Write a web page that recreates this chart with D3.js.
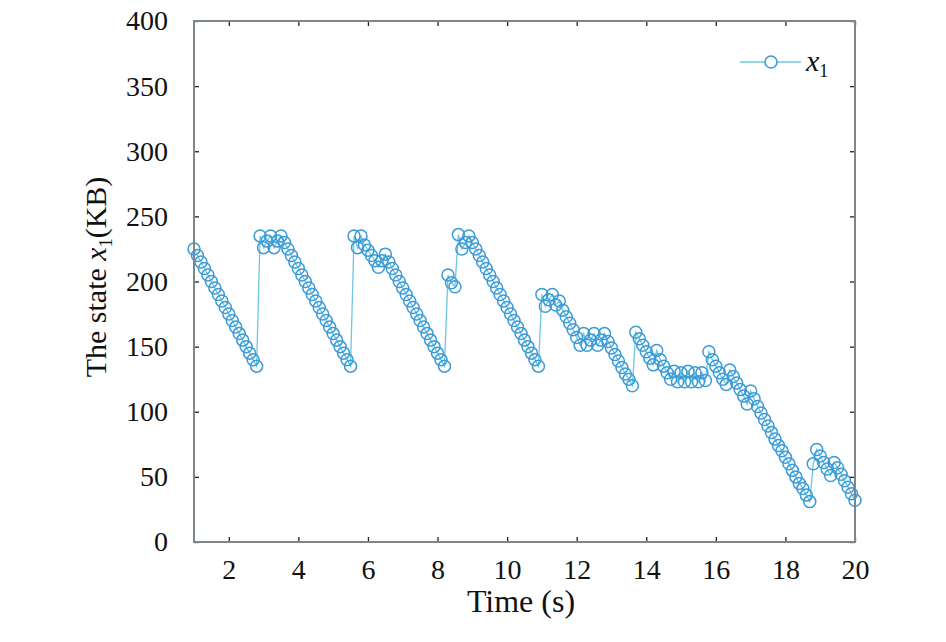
<!DOCTYPE html>
<html>
<head>
<meta charset="utf-8">
<script src="https://cdn.jsdelivr.net/npm/d3@7"></script>
<style>
  body { margin: 0; background: #fff; }
  svg text { font-family: "Liberation Serif", "Times New Roman", serif; fill: #111; }
</style>
</head>
<body>
<svg id="chart" width="946" height="642"></svg>
<script>
// sampling: every 0.1 s from t = 1 s
const tStart = 1;
const tStep = 0.1;

// x1 (KB), one array per cycle of the sawtooth
const cycle1 = [225, 220, 215, 210, 205, 200, 195, 190, 185, 180, 175, 170, 165, 160, 155, 150, 145, 140, 135];
const cycle2 = [235, 226, 231, 235, 226, 231, 235, 230, 225, 220, 215, 210, 205, 200, 195, 190, 185, 180, 175, 170,
  165, 160, 155, 150, 145, 140, 135];
const cycle3 = [235, 226, 235, 228, 224, 220, 216, 211, 216, 221, 215, 210, 205, 200, 195, 190, 185, 180, 175, 170,
  165, 160, 155, 150, 145, 140, 135];
const cycle4 = [205, 199, 196, 236, 225, 230, 235, 230, 225, 220, 215, 210, 205, 200, 195, 190, 185, 180, 175, 170,
  165, 160, 155, 150, 145, 140, 135];
const cycle5 = [190, 181, 186, 190, 182, 185, 178, 173, 168, 163, 157, 151, 160, 151, 155, 160, 151, 155, 160, 154,
  149, 144, 139, 134, 129, 125, 120];
const cycle6 = [161, 156, 151, 146, 141, 136, 147, 140, 135, 130, 125, 131, 123, 130, 123, 131, 123, 130, 123, 130, 124];
const cycle7 = [146, 140, 135, 130, 125, 121, 132, 127, 122, 117, 112, 106, 116, 110, 104, 99, 94, 89, 84, 79,
  74, 70, 65, 60, 55, 50, 45, 41, 36, 31];
const cycle8 = [60, 71, 66, 61, 56, 51, 61, 57, 52, 47, 42, 37, 32];

const xTicks = [2, 4, 6, 8, 10, 12, 14, 16, 18, 20];
const yTicks = [0, 50, 100, 150, 200, 250, 300, 350, 400];

const values = [].concat(cycle1, cycle2, cycle3, cycle4, cycle5, cycle6, cycle7, cycle8);
const series = values.map((v, i) => ({ t: tStart + i * tStep, v: v }));

const margin = { left: 194, right: 91, top: 21, bottom: 100 };
const W = 946, H = 642;
const iw = W - margin.left - margin.right;
const ih = H - margin.top - margin.bottom;

const svg = d3.select("#chart");
const g = svg.append("g").attr("transform", `translate(${margin.left},${margin.top})`);

const x = d3.scaleLinear().domain([1, 20]).range([0, iw]);
const y = d3.scaleLinear().domain([0, 400]).range([ih, 0]);

// line + markers
g.append("path")
  .datum(series)
  .attr("fill", "none")
  .attr("stroke", "#6cc8e2")
  .attr("stroke-width", 1.3)
  .attr("d", d3.line().x((d) => x(d.t)).y((d) => y(d.v)));

g.selectAll(".pt")
  .data(series)
  .enter()
  .append("circle")
  .classed("pt", true)
  .attr("cx", (d) => x(d.t))
  .attr("cy", (d) => y(d.v))
  .attr("r", 6)
  .attr("fill", "none")
  .attr("stroke", "#3a9bd8")
  .attr("stroke-width", 1.5);

// axes box and inward ticks
const axisColor = "#7d858d";
function styleAxis(sel) {
  sel.select(".domain").remove();
  sel.selectAll(".tick line").attr("stroke", "#222").attr("stroke-width", 1.3);
  sel.selectAll("text").attr("font-size", 28).attr("fill", "#111")
    .style("font-family", '"Liberation Serif", serif');
}

g.append("g")
  .attr("transform", `translate(0,${ih})`)
  .call(d3.axisBottom(x).tickValues(xTicks).tickSizeInner(-5).tickSizeOuter(0).tickPadding(17))
  .call(styleAxis);

g.append("g")
  .call(d3.axisTop(x).tickValues(xTicks).tickSizeInner(-5).tickSizeOuter(0).tickFormat(""))
  .call(styleAxis);

g.append("g")
  .call(d3.axisLeft(y).tickValues(yTicks).tickSizeInner(-5).tickSizeOuter(0).tickPadding(26))
  .call(styleAxis);

g.append("g")
  .attr("transform", `translate(${iw},0)`)
  .call(d3.axisRight(y).tickValues(yTicks).tickSizeInner(-5).tickSizeOuter(0).tickFormat(""))
  .call(styleAxis);

g.append("rect")
  .attr("width", iw)
  .attr("height", ih)
  .attr("fill", "none")
  .attr("stroke", axisColor)
  .attr("stroke-width", 2);

// axis titles
svg.append("text")
  .attr("x", 521)
  .attr("y", 612)
  .attr("text-anchor", "middle")
  .attr("font-size", 32)
  .text("Time (s)");

const yTitle = svg.append("text")
  .attr("transform", "translate(106,277) rotate(-90)")
  .attr("text-anchor", "middle")
  .attr("font-size", 30);
yTitle.append("tspan").text("The state ");
yTitle.append("tspan").attr("font-style", "italic").text("x");
yTitle.append("tspan").attr("font-size", 18).attr("dy", 6).text("1");
yTitle.append("tspan").attr("dy", -6).text("(KB)");

// legend
const lg = svg.append("g").attr("transform", "translate(740,62)");
lg.append("line").attr("x1", 0).attr("x2", 61).attr("stroke", "#6cc8e2").attr("stroke-width", 1.5);
lg.append("circle").attr("cx", 31).attr("r", 6).attr("fill", "#fff").attr("stroke", "#3a9bd8").attr("stroke-width", 1.5);
const lt = lg.append("text").attr("x", 66).attr("y", 9).attr("font-size", 30);
lt.append("tspan").attr("font-style", "italic").text("x");
lt.append("tspan").attr("font-size", 18).attr("dy", 6).text("1");
</script>
</body>
</html>
